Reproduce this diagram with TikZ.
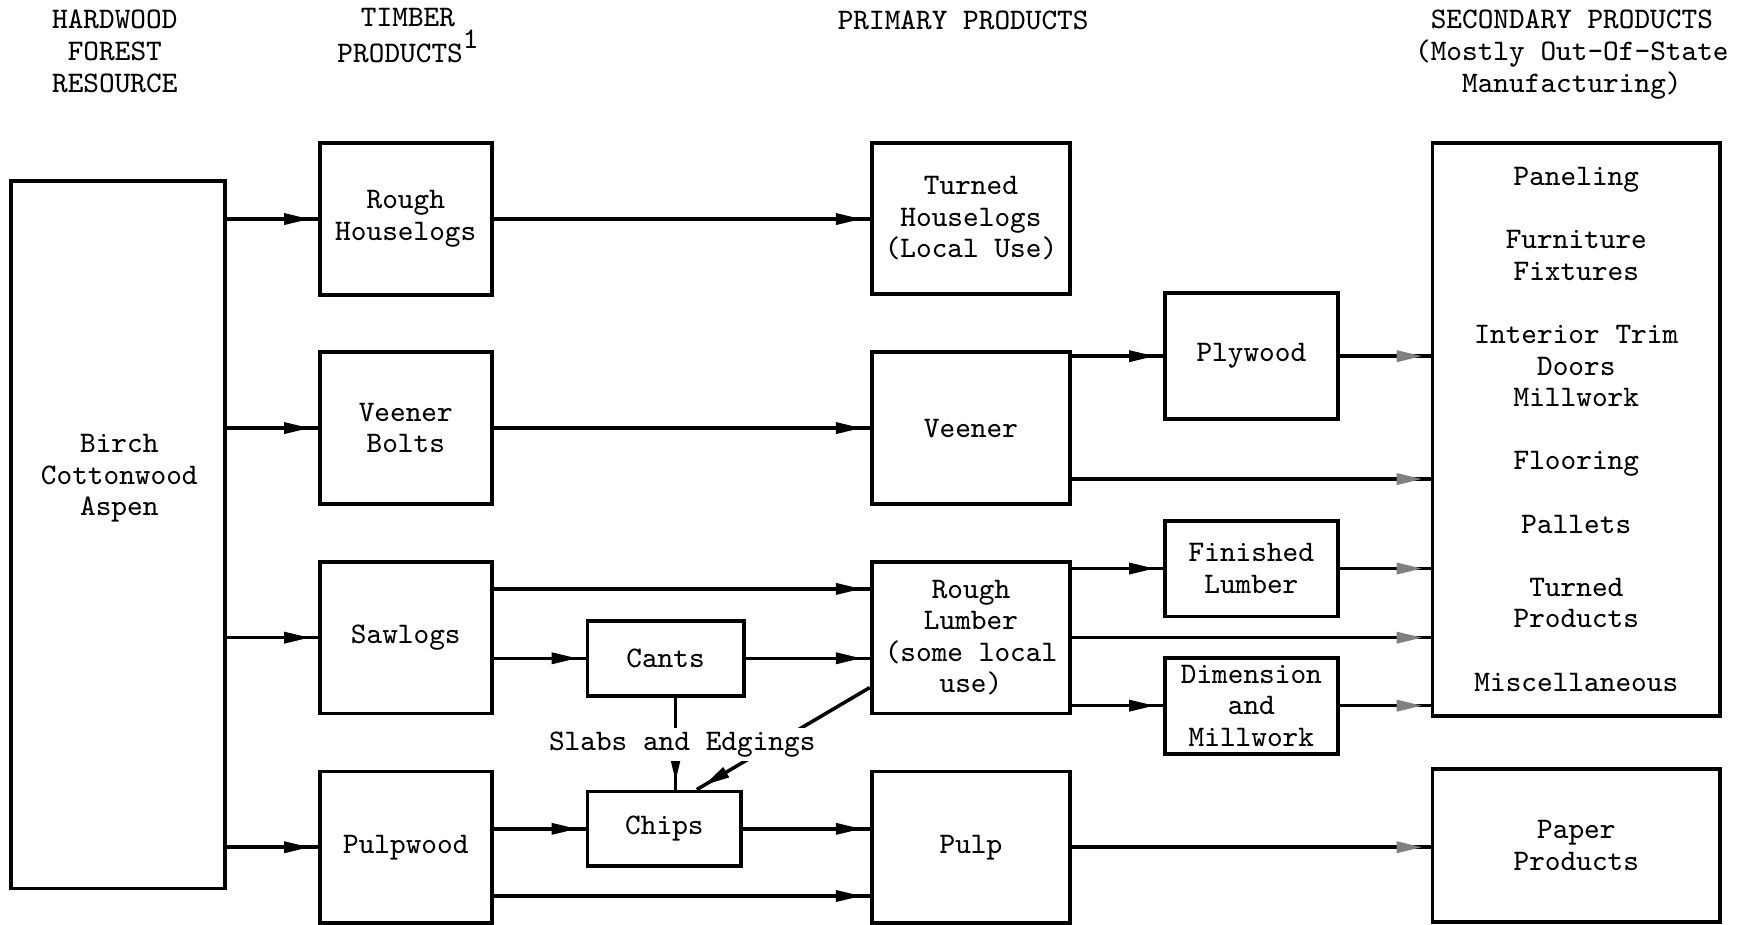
\documentclass[tikz,border=0pt]{standalone}
\usepackage{fontspec}
\usetikzlibrary{arrows.meta,decorations.markings}

\newcommand\pxu{0.011148cm}

\begin{document}
\begin{tikzpicture}[
  x=\pxu,
  y=-\pxu,
  font=\ttfamily\fontsize{8.5}{9}\selectfont,
  box/.style 2 args={draw, line width=1.1pt, minimum width=#1*\pxu,
    minimum height=#2*\pxu, inner sep=0pt, align=center},
  head/.style={align=center},
  flow/.style={line width=1pt, postaction={decorate},
    decoration={markings, mark=at position -0.8mm with
      {\arrow{Triangle[length=2.6mm,width=1.1mm,color=#1]}}}},
  flow/.default=black
]

% Frame
\useasboundingbox (0,0) rectangle (1568,829);

% Column headings
\node[head] (hforest) at (103,46) {HARDWOOD\\FOREST\\RESOURCE};
\node[head] (htimber) at (366,32) {TIMBER\\PRODUCTS\raisebox{4pt}{1}};
\node[head] (hprimary) at (864,18) {PRIMARY PRODUCTS};
\node[head] (hsecond) at (1410,49) {SECONDARY PRODUCTS\\(Mostly Out-Of-State\\Manufacturing)};

% Resource
\node[box={192}{635}] (forest) at (106,479.5) {};
\node[align=center] (foresttxt) at (107,429) {Birch\\Cottonwood\\Aspen};

% Timber products
\node[box={154}{137}] (rhouse) at (364,196.5) {Rough\\Houselogs};
\node[box={154}{136}] (vbolts) at (364,384) {Veener\\Bolts};
\node[box={154}{136}] (sawlogs) at (364,572) {Sawlogs};
\node[box={154}{136}] (pulpwood) at (364,760) {Pulpwood};

\node[box={140}{67}] (cants) at (597,590.5) {Cants};
\node[box={138}{67}] (chips) at (596,743.5) {Chips};

% Primary products
\node[box={178}{136}] (thouse) at (871,196) {Turned\\Houselogs\\(Local Use)};
\node[box={178}{136}] (veener) at (871,384) {Veener};
\node[box={178}{136}] (rlumber) at (871,572) {Rough\\Lumber\\(some local\\use)};
\node[box={178}{136}] (pulp) at (871,760) {Pulp};

\node[box={155}{113}] (plywood) at (1122.5,319.5) {Plywood};
\node[box={155}{86}] (flumber) at (1122.5,510) {Finished\\Lumber};
\node[box={155}{86}] (dimension) at (1122.5,633) {Dimension\\and\\Millwork};

% Secondary products
\node[box={258}{514}] (second) at (1414,385)
  {Paneling\\[9pt]Furniture\\Fixtures\\[9pt]Interior Trim\\Doors\\Millwork\\[9pt]%
   Flooring\\[9pt]Pallets\\[9pt]Turned\\Products\\[9pt]Miscellaneous};
\node[box={258}{137}] (paper) at (1414,758.5) {Paper\\Products};

% Resource to timber products
\draw[flow] (forest.east |- rhouse.west) -- (rhouse.west);
\draw[flow] (forest.east |- vbolts.west) -- (vbolts.west);
\draw[flow] (forest.east |- sawlogs.west) -- (sawlogs.west);
\draw[flow] (forest.east |- pulpwood.west) -- (pulpwood.west);

% Timber to primary
\draw[flow] (rhouse.east) -- (rhouse.east -| thouse.west);
\draw[flow] (vbolts.east) -- (vbolts.east -| veener.west);
\draw[flow] ([yshift=-26*\pxu]sawlogs.north east) -- ([yshift=-26*\pxu]rlumber.north west);
\draw[flow] (sawlogs.east |- cants.west) -- (cants.west);
\draw[flow] (cants.east) -- (cants.east -| rlumber.west);
\draw[flow] (pulpwood.east |- chips.west) -- (chips.west);
\draw[flow] (chips.east) -- (chips.east -| pulp.west);
\draw[flow] ([yshift=26*\pxu]pulpwood.south east) -- ([yshift=26*\pxu]pulp.south west);

% Slabs and edgings
\coordinate (rlout) at ([yshift=25*\pxu]rlumber.south west);
\draw[flow] (rlout) -- ([xshift=29*\pxu]chips.north);
\draw[flow] ([xshift=9*\pxu]cants.south) -- ([xshift=10*\pxu]chips.north);
\node[fill=white, inner sep=1pt] (slabs) at (612,668) {Slabs and Edgings};

% Primary to secondary
\draw[flow] (veener.east |- plywood.west) -- (plywood.west);
\draw[flow=gray] (plywood.east) -- (plywood.east -| second.west);
\coordinate (vout) at ([yshift=24*\pxu]veener.south east);
\draw[flow=gray] (vout) -- (vout -| second.west);
\draw[flow] (rlumber.east |- flumber.west) -- (flumber.west);
\draw[flow=gray] (flumber.east) -- (flumber.east -| second.west);
\draw[flow=gray] (rlumber.east) -- (rlumber.east -| second.west);
\draw[flow] (rlumber.east |- dimension.west) -- (dimension.west);
\draw[flow=gray] (dimension.east) -- (dimension.east -| second.west);
\draw[flow=gray] (pulp.east) -- (pulp.east -| paper.west);

\end{tikzpicture}
\end{document}
